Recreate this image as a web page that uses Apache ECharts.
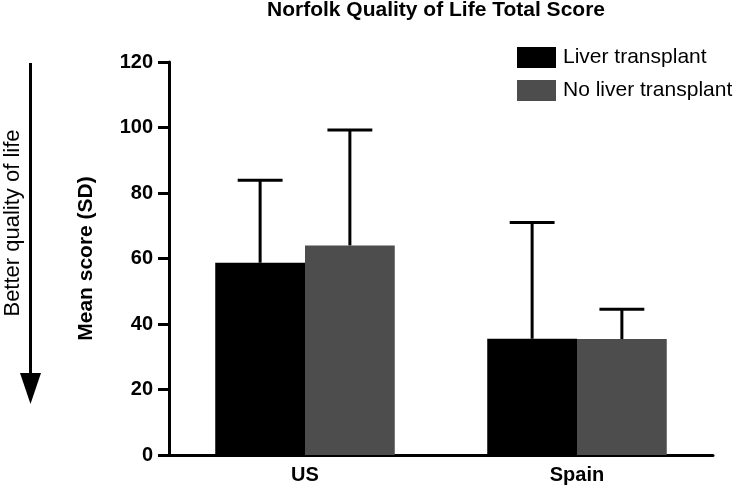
<!DOCTYPE html>
<html>
<head>
<meta charset="utf-8">
<script src="https://cdn.jsdelivr.net/npm/echarts@6/dist/echarts.min.js"></script>
<style>html,body{margin:0;padding:0;background:#fff}#c{width:737px;height:490px}</style>
</head>
<body>
<div id="c"></div>
<script>
var categories = ['US', 'Spain'];
var seriesNames = ['Liver transplant', 'No liver transplant'];
var liverMean = [58.7, 35.5];
var liverSD = [25.2, 35.5];
var noLiverMean = [64.0, 35.4];
var noLiverSD = [35.2, 9.1];
var yTicks = [0, 20, 40, 60, 80, 100, 120];

var FONT = '"Liberation Sans", Arial, Helvetica, sans-serif';
var chart = echarts.init(document.getElementById('c'), null, {renderer: 'canvas'});

function errData(means, sds) {
  return means.map(function (m, i) { return [i, m, sds[i]]; });
}
function errSeries(means, sds, side) {
  return {
    type: 'custom',
    z: 5,
    data: errData(means, sds),
    renderItem: function (params, api) {
      var band = api.size([1, 0])[0];
      var bw = band * 0.33;
      var base = api.coord([api.value(0), api.value(1)]);
      var top = api.coord([api.value(0), api.value(1) + api.value(2)]);
      var x = base[0] + side * bw / 2;
      var cap = bw / 4;
      var st = {stroke: '#000', lineWidth: 3};
      return {
        type: 'group',
        children: [
          {type: 'line', shape: {x1: x, y1: base[1], x2: x, y2: top[1]}, style: st},
          {type: 'line', shape: {x1: x - cap, y1: top[1], x2: x + cap, y2: top[1]}, style: st}
        ]
      };
    }
  };
}

chart.setOption({
  animation: false,
  backgroundColor: '#fff',
  textStyle: {fontFamily: FONT},
  title: {
    text: 'Norfolk Quality of Life Total Score',
    left: 436, top: 0, padding: 0, textAlign: 'center',
    textStyle: {fontFamily: FONT, fontWeight: 'bold', fontSize: 21, color: '#000'}
  },
  legend: {
    orient: 'vertical', left: 512, top: 42,
    itemWidth: 39, itemHeight: 21, itemGap: 12,
    icon: 'rect',
    data: seriesNames,
    textStyle: {fontFamily: FONT, fontSize: 21, color: '#000', padding: [0, 0, 0, 2]}
  },
  grid: {left: 169, right: 24, top: 62, bottom: 35, containLabel: false},
  xAxis: {
    type: 'category', data: categories,
    axisLine: {lineStyle: {color: '#000', width: 3}},
    axisTick: {show: false},
    axisLabel: {fontFamily: FONT, fontWeight: 'bold', fontSize: 20, color: '#000', margin: 10}
  },
  yAxis: {
    type: 'value', min: 0, max: 120, interval: 20,
    name: 'Mean score (SD)', nameLocation: 'middle', nameRotate: 90, nameGap: 72,
    nameTextStyle: {fontFamily: FONT, fontWeight: 'bold', fontSize: 21, color: '#000'},
    axisLine: {show: true, lineStyle: {color: '#000', width: 3}},
    axisTick: {show: true, length: 11, lineStyle: {color: '#000', width: 3}},
    splitLine: {show: false},
    axisLabel: {fontFamily: FONT, fontWeight: 'bold', fontSize: 20, color: '#000', margin: 16,
      formatter: function (v) { return yTicks.indexOf(v) >= 0 ? String(v) : ''; }}
  },
  series: [
    {name: seriesNames[0], type: 'bar', data: liverMean, barGap: 0, barCategoryGap: '34%',
     itemStyle: {color: '#000'}},
    {name: seriesNames[1], type: 'bar', data: noLiverMean, barGap: 0, barCategoryGap: '34%',
     itemStyle: {color: '#4d4d4d'}},
    errSeries(liverMean, liverSD, -1),
    errSeries(noLiverMean, noLiverSD, 1)
  ],
  graphic: [
    {type: 'line', shape: {x1: 30.5, y1: 63, x2: 30.5, y2: 376}, style: {stroke: '#000', lineWidth: 3}},
    {type: 'polygon', shape: {points: [[20, 373], [41, 373], [30.5, 404]]}, style: {fill: '#000'}},
    {type: 'text', x: 13, y: 223, rotation: Math.PI / 2,
     style: {text: 'Better quality of life', fontFamily: FONT, fontSize: 22, fill: '#000',
       textAlign: 'center', textVerticalAlign: 'middle'}}
  ]
});
</script>
</body>
</html>
